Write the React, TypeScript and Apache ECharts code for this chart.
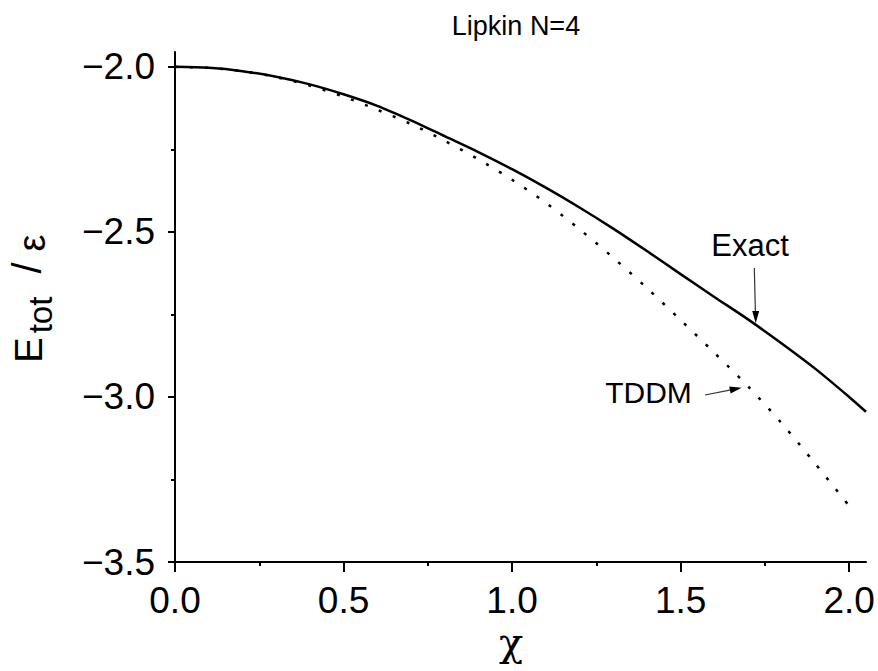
import React, { useEffect, useRef } from 'react';
import * as echarts from 'echarts';

// Ground-state energy of the N=4 Lipkin model versus coupling strength chi
const CHI_EXACT = [0, 0.1, 0.2, 0.3, 0.4, 0.5, 0.6, 0.7, 0.8, 0.9, 1.0, 1.1, 1.2, 1.3, 1.4, 1.5, 1.6, 1.7, 1.8, 1.9, 2.0, 2.05];
const E_EXACT = [-2.0, -2.003, -2.013, -2.03, -2.053, -2.083, -2.118, -2.162, -2.21, -2.258, -2.31, -2.366, -2.426, -2.49, -2.558, -2.628, -2.697, -2.765, -2.838, -2.915, -3.0, -3.045];

const CHI_TDDM = [0, 0.1, 0.2, 0.3, 0.4, 0.5, 0.6, 0.7, 0.8, 0.9, 1.0, 1.1, 1.2, 1.3, 1.4, 1.5, 1.6, 1.7, 1.8, 1.9, 2.0];
const E_TDDM = [-2.0, -2.003, -2.013, -2.031, -2.057, -2.09, -2.13, -2.173, -2.224, -2.28, -2.342, -2.412, -2.492, -2.578, -2.67, -2.767, -2.866, -2.968, -3.08, -3.203, -3.33];

const X_MAJOR = [0, 0.5, 1.0, 1.5, 2.0];
const X_MINOR = [0.25, 0.75, 1.25, 1.75];
const Y_MAJOR = [-3.5, -3.0, -2.5, -2.0];
const Y_MINOR = [-3.25, -2.75, -2.25];
const X_RANGE = [0, 2.05];
const Y_RANGE = [-3.5, -1.955];

const SANS = "'Liberation Sans', Arial, sans-serif";
const SERIF = "'DejaVu Serif', 'Liberation Serif', serif";
const INK = '#000';

const tickLine = { color: INK, width: 2 };

function rotatedText(text: string, x: number, y: number, fontSize: number, fontFamily = SANS) {
  return {
    type: 'text',
    x,
    y,
    rotation: Math.PI / 2,
    style: { text, fontSize, fontFamily, fill: INK, align: 'center', verticalAlign: 'middle' },
  };
}

export default function App() {
  const ref = useRef<HTMLDivElement>(null);

  useEffect(() => {
    const chart = echarts.init(ref.current!, null, { renderer: 'svg' });

    const exactData = CHI_EXACT.map((c, i) => [c, E_EXACT[i]]);
    const tddmData = CHI_TDDM.map((c, i) => [c, E_TDDM[i]]);

    chart.setOption({
      animation: false,
      backgroundColor: '#fff',
      grid: { left: 175, right: 12, top: 52, bottom: 109, outerBoundsMode: 'none' },
      xAxis: [
        {
          type: 'value',
          min: X_RANGE[0],
          max: X_RANGE[1],
          position: 'bottom',
          axisLine: { show: true, onZero: false, lineStyle: { color: INK, width: 2 } },
          axisTick: { show: true, inside: false, length: 10, customValues: X_MAJOR, lineStyle: tickLine },
          axisLabel: {
            customValues: X_MAJOR,
            formatter: (v: number) => v.toFixed(1),
            fontSize: 37,
            fontFamily: SANS,
            color: INK,
            margin: 20,
          },
          splitLine: { show: false },
        },
        {
          type: 'value',
          min: X_RANGE[0],
          max: X_RANGE[1],
          position: 'bottom',
          axisLine: { show: false, onZero: false },
          axisTick: { show: true, inside: false, length: 4, customValues: X_MINOR, lineStyle: tickLine },
          axisLabel: { show: false },
          splitLine: { show: false },
        },
      ],
      yAxis: [
        {
          type: 'value',
          min: Y_RANGE[0],
          max: Y_RANGE[1],
          position: 'left',
          axisLine: { show: true, onZero: false, lineStyle: { color: INK, width: 2 } },
          axisTick: { show: true, inside: false, length: 7, customValues: Y_MAJOR, lineStyle: tickLine },
          axisLabel: {
            customValues: Y_MAJOR,
            formatter: (v: number) => (v < 0 ? '\u2212' : '') + Math.abs(v).toFixed(1),
            fontSize: 37,
            fontFamily: SANS,
            color: INK,
            margin: 20,
          },
          splitLine: { show: false },
        },
        {
          type: 'value',
          min: Y_RANGE[0],
          max: Y_RANGE[1],
          position: 'left',
          axisLine: { show: false, onZero: false },
          axisTick: { show: true, inside: false, length: 4, customValues: Y_MINOR, lineStyle: tickLine },
          axisLabel: { show: false },
          splitLine: { show: false },
        },
      ],
      series: [
        {
          type: 'line',
          name: 'Exact',
          xAxisIndex: 0,
          yAxisIndex: 0,
          data: exactData,
          showSymbol: false,
          smooth: 0.3,
          lineStyle: { color: INK, width: 2.5 },
          z: 3,
        },
        {
          type: 'line',
          name: 'TDDM',
          xAxisIndex: 0,
          yAxisIndex: 0,
          data: tddmData,
          showSymbol: false,
          smooth: 0.3,
          lineStyle: { color: INK, width: 2.5, type: [3, 12], cap: 'butt' },
          z: 2,
        },
      ],
      graphic: [
        // title
        {
          type: 'text',
          x: 516,
          y: 26,
          style: { text: 'Lipkin N=4', fontSize: 27, fontFamily: SANS, fill: INK, align: 'center', verticalAlign: 'middle' },
        },
        // x-axis name
        {
          type: 'text',
          x: 511,
          y: 642,
          style: { text: '\u03c7', fontSize: 40, fontFamily: SERIF, fill: INK, align: 'center', verticalAlign: 'middle' },
        },
        // y-axis name: E_tot / epsilon, reading bottom to top
        rotatedText('E', 29, 350, 38),
        rotatedText('tot', 40, 315, 33),
        rotatedText('/', 27, 268, 40),
        rotatedText('\u03b5', 32, 243, 38),
        // "Exact" annotation and arrow
        {
          type: 'text',
          x: 750,
          y: 245,
          style: { text: 'Exact', fontSize: 31, fontFamily: SANS, fill: INK, align: 'center', verticalAlign: 'middle' },
        },
        {
          type: 'line',
          shape: { x1: 754.3, y1: 268, x2: 755.4, y2: 312 },
          style: { stroke: '#333', lineWidth: 1.2 },
        },
        {
          type: 'polygon',
          shape: { points: [[755.7, 323.3], [752.2, 311], [759.2, 311]] },
          style: { fill: INK },
        },
        // "TDDM" annotation and arrow
        {
          type: 'text',
          x: 648.5,
          y: 392,
          style: { text: 'TDDM', fontSize: 30, fontFamily: SANS, fill: INK, align: 'center', verticalAlign: 'middle' },
        },
        {
          type: 'line',
          shape: { x1: 705, y1: 395, x2: 731, y2: 389.8 },
          style: { stroke: '#333', lineWidth: 1.2 },
        },
        {
          type: 'polygon',
          shape: { points: [[741.7, 387.7], [730.6, 393.4], [729.2, 386.6]] },
          style: { fill: INK },
        },
      ],
    });

    return () => chart.dispose();
  }, []);

  return <div ref={ref} style={{ position: 'fixed', left: 0, top: 0, width: 878, height: 671 }} />;
}
